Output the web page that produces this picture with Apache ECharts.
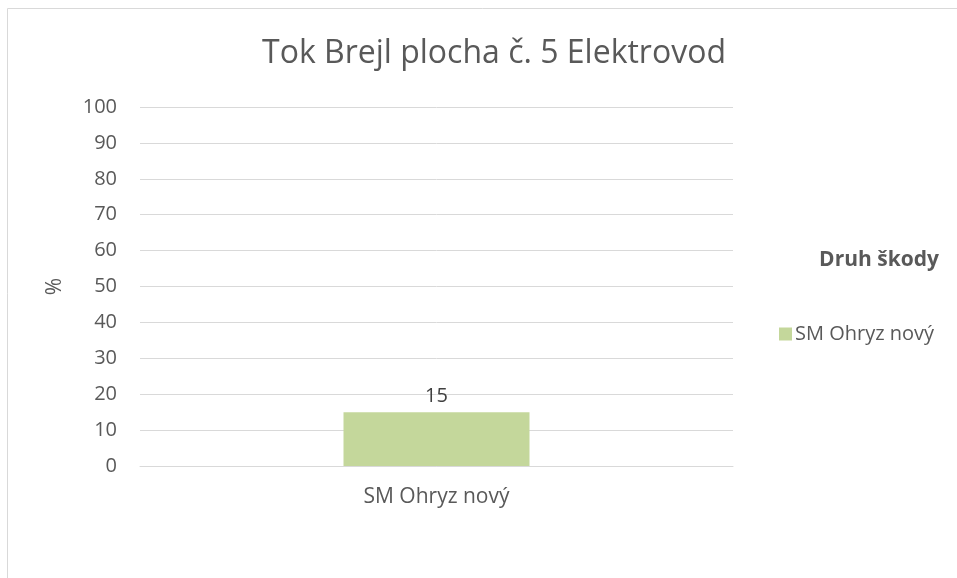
<!DOCTYPE html>
<html>
<head>
<meta charset="utf-8">
<script src="https://cdn.jsdelivr.net/npm/echarts@6/dist/echarts.min.js"></script>
<style>
  html, body { margin: 0; padding: 0; background: #fff; }
  #chart { width: 957px; height: 578px; }
</style>
</head>
<body>
<div id="chart"></div>
<script>
// data
const categories = ['SM Ohryz nový'];
const values = [15];
const seriesName = 'SM Ohryz nový';
const legendTitle = 'Druh škody';
const chartTitle = 'Tok Brejl plocha č. 5 Elektrovod';

const font = '"Open Sans", sans-serif';
const textColor = '#595959';

const chart = echarts.init(document.getElementById('chart'));
chart.setOption({
  animation: false,
  textStyle: { fontFamily: font },
  graphic: [{
    type: 'rect',
    shape: { x: 7.5, y: 8.5, width: 1000, height: 1000 },
    style: { fill: 'none', stroke: '#d9d9d9', lineWidth: 1 }
  }],
  title: [
    {
      text: chartTitle,
      left: 489, top: 33, textAlign: 'center',
      textStyle: { fontFamily: font, fontSize: 32, fontWeight: 'normal', color: textColor }
    },
    {
      text: legendTitle,
      left: 874, top: 245, textAlign: 'center',
      textStyle: { fontFamily: font, fontSize: 21, fontWeight: 'bold', color: textColor }
    }
  ],
  legend: {
    data: [seriesName],
    left: 774, top: 319,
    itemWidth: 13, itemHeight: 13, itemGap: 6,
    icon: 'rect',
    textStyle: { fontFamily: font, fontSize: 20, color: textColor, padding: [0, 0, 0, -2] }
  },
  grid: { left: 140, right: 224, top: 107, bottom: 112 },
  xAxis: {
    type: 'category',
    data: categories,
    axisLine: { lineStyle: { color: '#d9d9d9' } },
    axisTick: { show: false },
    axisLabel: { fontFamily: font, fontSize: 21, color: textColor, margin: 21 }
  },
  yAxis: {
    type: 'value',
    min: 0, max: 100, interval: 10,
    name: '%',
    nameLocation: 'middle',
    nameGap: 74,
    nameTextStyle: { fontFamily: font, fontSize: 21, color: textColor },
    axisLine: { show: false },
    axisTick: { show: false },
    splitLine: { lineStyle: { color: '#d9d9d9' } },
    axisLabel: { fontFamily: font, fontSize: 20, color: textColor, margin: 23 }
  },
  series: [{
    name: seriesName,
    type: 'bar',
    data: values,
    barWidth: 186,
    itemStyle: { color: '#c4d79b' },
    label: {
      show: true, position: 'top', distance: 6,
      fontFamily: font, fontSize: 20, color: '#404040'
    }
  }]
});
</script>
</body>
</html>
